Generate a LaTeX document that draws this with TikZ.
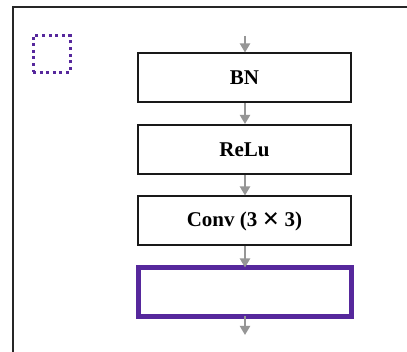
\documentclass[tikz,border=0pt]{standalone}
\usepackage{fontspec}
\setmainfont{Liberation Serif}
\usetikzlibrary{arrows.meta}
\definecolor{purp}{RGB}{86,40,156}
\definecolor{arrgray}{RGB}{150,150,150}
\begin{document}
\begin{tikzpicture}[x=1pt,y=-1pt,
  layer/.style={draw=black!90,line width=2pt,fill=white,minimum width=213pt,minimum height=49pt,inner sep=0pt,font=\fontsize{21}{23}\selectfont\bfseries},
  flow/.style={draw=arrgray,line width=2pt,-{Triangle[width=10pt,length=9pt]}}]
\useasboundingbox (0,0) rectangle (407,352);
\fill[white] (0,0) rectangle (407,352);
% frame (only top and left visible)
\draw[line width=2.2pt,black!85] (13,360) -- (13,7) -- (415,7);
% dotted legend square
\node[draw=purp,line width=3pt,dash pattern=on 3pt off 3.6pt,minimum size=37pt,inner sep=0pt] (legend) at (51.5,54) {};
% layers
\node[layer] (bn) at (244.5,78) {BN};
\node[layer] (relu) at (244.5,149.5) {ReLu};
\node[layer] (conv) at (244.5,221) {Conv (3 \raisebox{-2.6pt}{\scalebox{1.4}{×}} 3)};
\node[draw=purp,line width=5pt,fill=white,minimum width=213pt,minimum height=49pt,inner sep=0pt] (out) at (245,292) {};
\coordinate (in) at (245,36);
\coordinate (end) at (245,335);
\draw[flow] (in) -- (bn.north -| in);
\draw[flow] (bn.south -| in) -- (relu.north -| in);
\draw[flow] (relu.south -| in) -- (conv.north -| in);
\draw[flow] (conv.south -| in) -- ([yshift=-2.5pt]out.north -| in);
\draw[flow] ([yshift=2.5pt]out.south -| in) -- (end);
\end{tikzpicture}
\end{document}
